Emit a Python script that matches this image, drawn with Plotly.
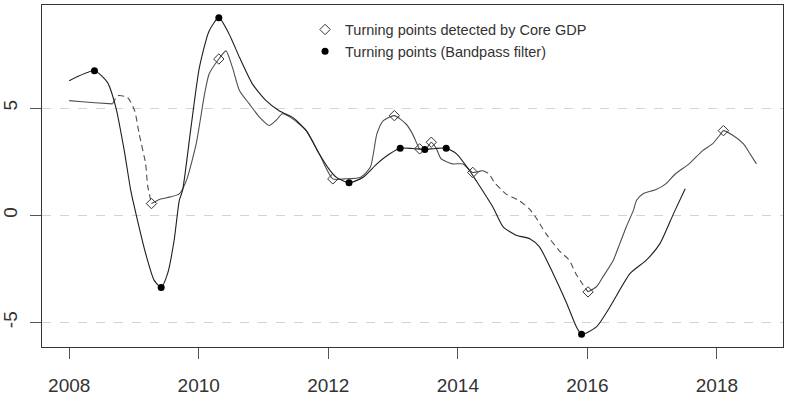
import plotly.graph_objects as go

# ---------------- data ----------------
bp_year = [2008.00, 2008.39, 2008.59, 2008.72, 2008.85, 2008.95, 2009.03, 2009.18, 2009.31, 2009.42,
           2009.52, 2009.62, 2009.70, 2009.75, 2009.88, 2010.01, 2010.16, 2010.31, 2010.47, 2010.63,
           2010.83, 2011.04, 2011.24, 2011.45, 2011.66, 2011.86, 2012.00, 2012.12, 2012.32, 2012.54,
           2012.75, 2012.95, 2013.11, 2013.30, 2013.49, 2013.65, 2013.82, 2013.98, 2014.18, 2014.28,
           2014.54, 2014.70, 2014.90, 2015.11, 2015.26, 2015.47, 2015.68, 2015.83, 2015.91, 2016.14,
           2016.35, 2016.66, 2016.91, 2017.12, 2017.33, 2017.51]
bp_value = [6.28, 6.74, 6.20, 5.04, 3.02, 1.16, 0.08, -1.78, -3.02, -3.36,
            -2.71, -1.16, 0.70, 1.16, 4.10, 6.90, 8.60, 9.22, 8.45, 7.36,
            6.12, 5.35, 4.88, 4.57, 3.95, 2.87, 2.20, 1.78, 1.52, 1.78,
            2.40, 2.87, 3.13, 3.12, 3.07, 3.12, 3.13, 2.87, 2.09, 1.63,
            0.39, -0.54, -0.93, -1.09, -1.47, -2.71, -4.10, -5.20, -5.55, -5.20,
            -4.26, -2.71, -2.09, -1.32, 0.08, 1.24]

core_year = [2008.00, 2008.20, 2008.40, 2008.67, 2008.75, 2008.90, 2009.01, 2009.08, 2009.18, 2009.21,
             2009.27, 2009.40, 2009.55, 2009.70, 2009.81, 2009.96, 2010.09, 2010.16, 2010.31, 2010.42,
             2010.52, 2010.63, 2010.78, 2010.94, 2011.09, 2011.20, 2011.29, 2011.45, 2011.66, 2011.86,
             2012.07, 2012.25, 2012.50, 2012.65, 2012.75, 2012.85, 2013.02, 2013.20, 2013.30, 2013.38,
             2013.41, 2013.51, 2013.59, 2013.67, 2013.74, 2013.92, 2014.08, 2014.23, 2014.38, 2014.48,
             2014.56, 2014.66, 2014.74, 2014.94, 2015.10, 2015.20, 2015.36, 2015.56, 2015.72, 2015.82,
             2015.92, 2016.01, 2016.14, 2016.24, 2016.40, 2016.50, 2016.60, 2016.71, 2016.76, 2016.86,
             2017.06, 2017.21, 2017.36, 2017.57, 2017.78, 2017.93, 2018.06, 2018.10, 2018.25, 2018.41,
             2018.51, 2018.61]
core_value = [5.35, 5.30, 5.25, 5.20, 5.58, 5.50, 4.88, 3.80, 2.40, 1.40,
              0.55, 0.75, 0.85, 1.00, 1.63, 3.33, 5.66, 6.59, 7.29, 7.67,
              6.90, 5.81, 5.20, 4.57, 4.19, 4.45, 4.74, 4.50, 3.95, 2.87,
              1.70, 1.70, 1.78, 2.25, 3.80, 4.42, 4.65, 4.26, 3.80, 3.26,
              3.10, 3.10, 3.41, 3.10, 2.64, 2.40, 2.40, 2.00, 2.09, 1.94,
              1.55, 1.24, 1.00, 0.70, 0.31, -0.08, -0.85, -1.63, -2.09, -2.71,
              -3.18, -3.57, -3.33, -2.87, -2.09, -1.32, -0.54, 0.23, 0.70, 1.01,
              1.20, 1.47, 1.94, 2.40, 3.02, 3.33, 3.80, 3.95, 3.72, 3.33,
              2.87, 2.40]

tp_core_year = [2009.27, 2010.31, 2012.07, 2013.02, 2013.41, 2013.59, 2014.23, 2016.01, 2018.10]
tp_core_value = [0.55, 7.29, 1.70, 4.65, 3.10, 3.41, 2.00, -3.57, 3.95]

tp_bp_year = [2008.39, 2009.42, 2010.31, 2012.32, 2013.11, 2013.49, 2013.82, 2015.91]
tp_bp_value = [6.74, -3.36, 9.22, 1.52, 3.13, 3.07, 3.13, -5.55]

x_ticks = [2008, 2010, 2012, 2014, 2016, 2018]
y_ticks = [-5, 0, 5]

legend_names = ["Turning points detected by Core GDP", "Turning points (Bandpass filter)"]

# ---------------- style spans for the core line ----------------
dashed_spans = [(2008.67, 2009.27), (2014.38, 2016.01)]


def style_of(yr):
    for a, b in dashed_spans:
        if a <= yr < b:
            return "dash"
    return "solid"


fig = go.Figure()

# core GDP line, split into runs of equal dash style (segment style = style of its start point)
runs = []
cur = [0]
for i in range(1, len(core_year)):
    cur.append(i)
    s = style_of(core_year[i - 1])
    nxt = style_of(core_year[i]) if i < len(core_year) - 1 else s
    if nxt != s:
        runs.append((s, cur))
        cur = [i]
if len(cur) > 1:
    runs.append((style_of(core_year[cur[0]]), cur))

for s, idx in runs:
    fig.add_trace(go.Scatter(
        x=[core_year[i] for i in idx], y=[core_value[i] for i in idx],
        mode="lines", line=dict(color="#4f4f4f", width=1.1, dash="6px,4px" if s == "dash" else "solid",
                                shape="spline", smoothing=0.6),
        showlegend=False, hoverinfo="skip"))

# bandpass filter line
fig.add_trace(go.Scatter(
    x=bp_year, y=bp_value, mode="lines",
    line=dict(color="#1e1e1e", width=1.1, shape="spline", smoothing=0.6),
    showlegend=False, hoverinfo="skip"))

fig.add_trace(go.Scatter(
    x=tp_core_year, y=tp_core_value, mode="markers", name=legend_names[0],
    marker=dict(symbol="diamond-open", size=8, color="#333333", line=dict(width=1, color="#333333"))))
fig.add_trace(go.Scatter(
    x=tp_bp_year, y=tp_bp_value, mode="markers", name=legend_names[1],
    marker=dict(symbol="circle", size=7, color="#000000")))

fig.update_layout(
    width=791, height=414,
    margin=dict(l=42, r=8, t=5, b=67, autoexpand=False),
    plot_bgcolor="white", paper_bgcolor="white",
    font=dict(family="Liberation Sans, Arial, sans-serif", color="#333333"),
    legend=dict(x=0.355, y=0.975, xanchor="left", yanchor="top", bgcolor="rgba(0,0,0,0)",
                font=dict(size=14.5, color="#333333"), itemwidth=30, tracegroupgap=0),
)
fig.update_xaxes(
    range=[2007.58, 2019.02], tickvals=x_ticks, ticktext=[str(v) for v in x_ticks],
    showgrid=False, zeroline=False, showline=True, mirror=True, linecolor="#333333", linewidth=1,
    ticks="outside", ticklen=11, tickcolor="#555555", tickwidth=1, automargin=False,
    tickfont=dict(size=19, color="#333333"), ticklabelstandoff=10)
fig.update_yaxes(
    range=[-6.14, 9.81], tickvals=y_ticks, ticktext=[str(v) for v in y_ticks],
    showgrid=True, gridcolor="#d3d3d3", griddash="dash", gridwidth=1,
    zeroline=False, showline=True, mirror=True, linecolor="#333333", linewidth=1,
    ticks="outside", ticklen=11, tickcolor="#555555", tickwidth=1, tickangle=-90, automargin=False,
    tickfont=dict(size=19, color="#333333"), ticklabelstandoff=5)

fig.write_html("out.html")
